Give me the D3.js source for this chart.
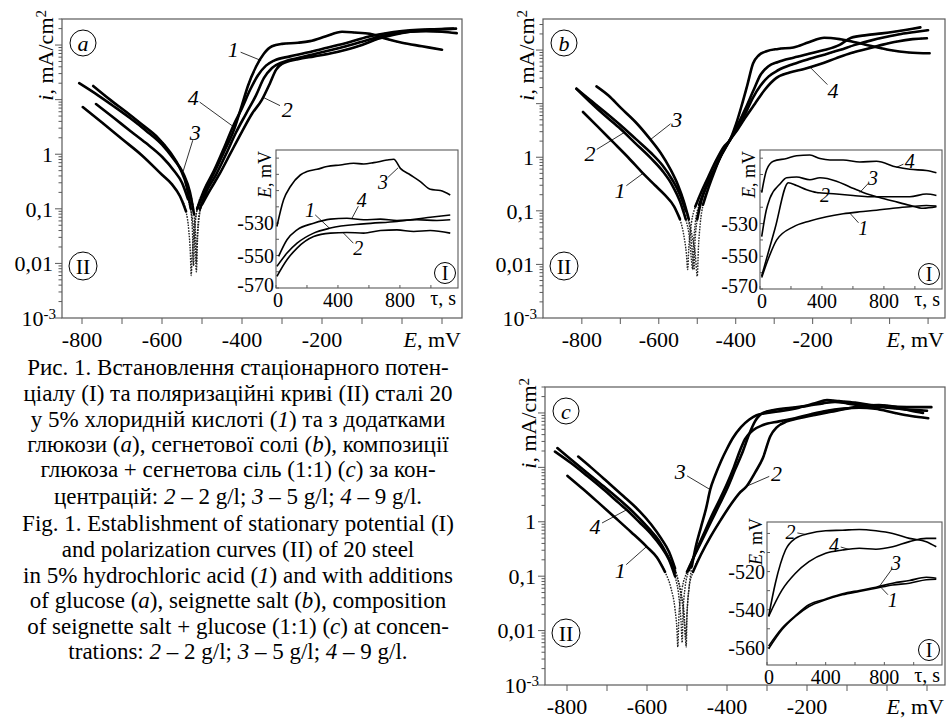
<!DOCTYPE html>
<html>
<head>
<meta charset="utf-8">
<script src="https://cdnjs.cloudflare.com/ajax/libs/d3/7.8.5/d3.min.js"></script>
<style>
  body { margin: 0; background: #fff; }
  svg { display: block; }
  svg, text { font-family: "Liberation Serif", "Times New Roman", Times, "DejaVu Serif", serif; fill: #000; }
</style>
</head>
<body>
<svg id="fig" width="949" height="718" font-family="Liberation Serif, Times New Roman, serif"></svg>
<script>
// ---- polarization curves [E, mV ; i, mA/cm2] ----
var aCurve1 = [[-798,7.3],[-750,3.8],[-700,1.9],[-650,0.95],[-600,0.42],[-575,0.28],[-555,0.17],[-540,0.09],[-533,0.04],[-529,0.015],[-527,0.006],
  [-525,0.012],[-520,0.04],[-512,0.1],[-495,0.2],[-470,0.45],[-445,1.1],[-420,2.8],[-400,8],[-385,18],[-365,40],[-345,70],[-325,95],[-300,105],[-260,110],[-230,118],[-190,145],[-150,175],[-120,170],[-80,160],[-40,130],[0,110],[50,95],[100,82]];
var aCurve2 = [[-765,8.3],[-720,4.6],[-680,2.7],[-640,1.6],[-600,0.9],[-570,0.5],[-550,0.3],[-535,0.15],[-522,0.05],[-517,0.02],[-514,0.007],
  [-512,0.02],[-508,0.06],[-500,0.12],[-480,0.22],[-455,0.45],[-430,1],[-400,2.6],[-375,5.5],[-350,10],[-330,20],[-315,35],[-300,45],[-260,55],[-220,62],[-180,70],[-140,82],[-100,100],[-60,130],[-20,155],[20,175],[60,185],[100,195],[135,200]];
var aCurve3 = [[-807,20],[-760,12],[-720,7.5],[-680,4.6],[-640,2.7],[-600,1.5],[-570,0.8],[-547,0.45],[-530,0.2],[-520,0.08],[-516,0.03],[-514,0.01],
  [-512,0.03],[-505,0.1],[-490,0.2],[-465,0.42],[-440,1],[-415,2.5],[-390,5.5],[-365,12],[-345,25],[-325,38],[-300,48],[-260,58],[-220,68],[-180,80],[-140,95],[-100,115],[-60,140],[-20,160],[20,175],[60,180],[100,175],[137,165]];
var aCurve4 = [[-772,17.8],[-730,10],[-690,6],[-650,3.5],[-610,2],[-580,1.1],[-555,0.55],[-538,0.25],[-528,0.1],[-524,0.04],[-521,0.009],
  [-519,0.03],[-512,0.1],[-495,0.22],[-470,0.5],[-445,1.3],[-422,3.3],[-400,7],[-380,15],[-360,28],[-340,42],[-320,52],[-280,62],[-240,72],[-200,85],[-160,100],[-120,120],[-80,145],[-40,165],[0,180],[40,190],[80,195],[128,200]];

var bCurve1 = [[-797,7],[-760,3.8],[-720,1.95],[-680,1.0],[-641,0.5],[-610,0.3],[-585,0.2],[-560,0.12],[-545,0.07],[-535,0.035],[-528,0.015],[-525,0.008],
  [-522,0.02],[-515,0.06],[-505,0.12],[-490,0.22],[-470,0.45],[-450,0.9],[-430,1.6],[-415,2.1],[-400,4],[-385,9],[-370,22],[-355,56],[-340,80],[-320,95],[-290,105],[-250,112],[-210,140],[-170,170],[-130,160],[-90,140],[-50,120],[0,100],[50,90],[104,87]];
var bCurve2 = [[-814,19],[-780,11],[-740,6],[-700,3.4],[-660,1.8],[-620,0.95],[-590,0.55],[-565,0.3],[-545,0.15],[-530,0.07],[-520,0.03],[-515,0.012],[-512,0.008],
  [-510,0.02],[-505,0.06],[-495,0.13],[-480,0.25],[-460,0.5],[-440,1],[-415,2.1],[-395,4],[-375,8],[-355,17],[-335,35],[-315,50],[-290,60],[-250,72],[-210,85],[-170,100],[-130,125],[-100,170],[-60,190],[-20,205],[20,225],[60,250],[80,265]];
var bCurve3 = [[-762,21],[-730,14],[-700,8.5],[-660,4.5],[-623,2.2],[-595,1.2],[-570,0.6],[-550,0.3],[-535,0.15],[-522,0.07],[-512,0.03],[-505,0.015],[-500,0.006],
  [-497,0.02],[-492,0.06],[-485,0.13],[-470,0.28],[-455,0.55],[-435,1.2],[-415,2.1],[-395,3.5],[-375,6.5],[-355,13],[-335,22],[-315,32],[-290,42],[-250,55],[-210,68],[-170,82],[-130,100],[-90,125],[-50,150],[-10,175],[30,200],[70,220],[100,235]];
var bCurve4 = [[-814,19],[-780,12],[-740,7],[-700,4],[-660,2.2],[-620,1.2],[-590,0.7],[-565,0.38],[-545,0.2],[-530,0.1],[-518,0.04],[-512,0.015],[-508,0.008],
  [-506,0.025],[-500,0.07],[-490,0.15],[-475,0.3],[-455,0.6],[-435,1.2],[-415,2.1],[-395,3.3],[-375,5.5],[-350,10],[-325,18],[-295,30],[-260,38],[-220,45],[-180,55],[-140,70],[-100,88],[-60,105],[-20,125],[20,145],[60,160],[97,166]];

var cCurve1 = [[-799,7],[-760,4],[-720,2.2],[-680,1.2],[-640,0.65],[-601,0.35],[-575,0.22],[-555,0.12],[-540,0.06],[-530,0.025],[-525,0.01],[-523,0.005],
  [-520,0.02],[-512,0.06],[-500,0.12],[-480,0.25],[-460,0.5],[-440,1],[-420,2],[-400,4],[-380,9],[-360,20],[-345,40],[-330,70],[-310,100],[-280,115],[-240,125],[-200,135],[-160,150],[-130,160],[-100,150],[-60,135],[0,125],[50,115],[100,110]];
var cCurve2 = [[-824,22.6],[-790,14],[-750,8],[-710,4.6],[-670,2.6],[-630,1.4],[-595,0.75],[-570,0.45],[-550,0.25],[-530,0.12],[-515,0.05],[-507,0.02],[-503,0.007],
  [-500,0.02],[-495,0.06],[-485,0.12],[-465,0.25],[-440,0.55],[-415,1.1],[-390,2.1],[-370,3.3],[-351,4.5],[-330,8],[-310,15],[-292,37],[-275,55],[-250,70],[-220,80],[-180,92],[-140,105],[-100,120],[-60,135],[-20,140],[20,130],[60,110],[90,100]];
var cCurve3 = [[-772,15.8],[-740,10],[-700,5.5],[-660,3],[-620,1.6],[-590,0.9],[-565,0.5],[-545,0.28],[-530,0.14],[-518,0.06],[-510,0.025],[-505,0.01],[-502,0.005],
  [-500,0.02],[-495,0.06],[-488,0.15],[-478,0.35],[-465,0.8],[-452,1.8],[-442,3.9],[-430,7],[-415,13],[-400,22],[-385,35],[-365,55],[-345,75],[-326,91],[-300,100],[-260,110],[-220,125],[-180,150],[-150,172],[-120,165],[-80,155],[-40,140],[0,132],[50,128],[111,128]];
var cCurve4 = [[-830,19.5],[-790,12],[-750,7],[-710,4],[-670,2.2],[-651,1.66],[-620,1.0],[-590,0.6],[-565,0.35],[-545,0.2],[-530,0.1],[-520,0.04],[-515,0.015],[-512,0.006],
  [-510,0.02],[-505,0.06],[-495,0.13],[-478,0.28],[-458,0.6],[-438,1.3],[-418,2.6],[-400,5],[-383,10],[-368,20],[-355,33],[-335,48],[-310,60],[-270,70],[-230,80],[-190,95],[-150,110],[-110,120],[-70,125],[-30,120],[20,100],[60,88],[103,80]];

// ---- stationary potential insets [tau, s ; E, mV] ----
var aInset1 = [[6,-556.7],[71,-548.5],[136,-542.4],[243,-536.2],[351,-533.1],[566,-530.5],[781,-529],[996,-526.4],[1125,-525]];
var aInset2 = [[6,-562.8],[71,-552.6],[136,-545.4],[243,-538.3],[351,-536.2],[458,-535.8],[566,-536.2],[674,-534.6],[781,-534.2],[889,-535.2],[996,-534.6],[1125,-536.2]];
var aInset3 = [[6,-532.1],[49,-515.7],[93,-507.5],[157,-500.4],[200,-498.3],[265,-496.9],[329,-495.2],[415,-494.2],[501,-493.2],[566,-493.6],[631,-492.8],[717,-491.2],[760,-490.7],[803,-496.3],[868,-500.4],[932,-504.5],[996,-509.2],[1061,-510],[1125,-512.7]];
var aInset4 = [[17,-550.5],[71,-540.3],[136,-534.2],[243,-530.1],[351,-527.6],[458,-527],[566,-528],[674,-527.6],[781,-528.4],[910,-528],[1039,-528.4],[1125,-528]];

var bInset1 = [[11,-563],[60,-550],[108,-540],[215,-532],[322,-528.4],[430,-525.8],[537,-524],[644,-522.8],[752,-521.8],[859,-520.6],[967,-519.7],[1074,-518.9],[1139,-519.3]];
var bInset2 = [[11,-562],[97,-533],[183,-505],[236,-506.7],[301,-509.3],[365,-511],[494,-511.9],[601,-512.8],[709,-513.6],[838,-513.6],[967,-513.6],[1074,-511.9],[1139,-512.8]];
var bInset3 = [[11,-538],[40,-522],[64,-514.5],[129,-505.8],[172,-502],[236,-501.5],[322,-503.2],[387,-502],[494,-504.1],[580,-507.6],[666,-511],[752,-513.6],[859,-516.2],[967,-518.8],[1053,-520.6],[1139,-519.7]];
var bInset4 = [[11,-511],[43,-497.1],[86,-491.9],[172,-490.2],[236,-488.5],[322,-488.1],[387,-490.2],[451,-491.1],[537,-491.1],[644,-492.3],[752,-491.9],[881,-495.4],[967,-496.8],[1074,-497.5],[1139,-498.9]];

var cInset1 = [[11,-560.5],[103,-550.4],[194,-543.5],[286,-538.3],[400,-534.8],[514,-532.2],[629,-530.4],[743,-528.7],[857,-527],[971,-526.1],[1086,-524.3],[1154,-524]];
var cInset2 = [[11,-543.5],[57,-526.1],[126,-508.7],[194,-502.6],[286,-500],[400,-498.6],[514,-498.3],[629,-497.9],[743,-498.6],[857,-500],[971,-502.6],[1086,-504.3],[1154,-507]];
var cInset3 = [[11,-559.1],[103,-549.6],[194,-543.1],[286,-537.4],[400,-534.4],[514,-531.7],[629,-529.9],[743,-528.2],[857,-526.1],[971,-524.7],[1086,-523],[1154,-523.5]];
var cInset4 = [[11,-543.5],[103,-529.6],[194,-520.9],[286,-514.8],[400,-510.4],[514,-508.7],[629,-507.8],[743,-508.3],[857,-507],[971,-504.3],[1086,-502.6],[1154,-502.6]];

// ---- curve number labels: [text, labelX, labelY, targetX, targetY] in data units ----
var aMainLabels = [["1",-422,84,-352,52],["4",-522,11,-424,3.3],["2",-287,6.7,-347,11],["3",-517,2.5,-547,0.49]];
var bMainLabels = [["3",-553,5.2,-623,2.1],["2",-779,1.17,-688,2.95],["1",-701,0.24,-641,0.5],["4",-147,17.8,-207,48]];
var cMainLabels = [["3",-517,8.3,-442,3.9],["4",-730,0.81,-651,1.66],["1",-667,0.13,-601,0.35],["2",-276,7.8,-351,4.5]];
var aInsetLabels = [["3",691,-504.7,788,-496],["1",220,-522,349,-533.5],["4",553,-515.8,489,-527.3],["2",531,-545.5,435,-536.1]];
var bInsetLabels = [["4",967,-491.9,881,-495.6],["3",730,-502.3,644,-511],["2",419,-512.8,344,-510.2],["1",666,-532.7,580,-523.6]];
var cInsetLabels = [["2",160,-499.1,263,-500.5],["4",457,-506.1,560,-508.4],["3",880,-515.7,766,-527.8],["1",857,-534.8,777,-528.3]];

// ---- ticks ----
var mainXTicks = [-800,-700,-600,-500,-400,-300,-200,-100,0,100];
var mainXLabels = [-800,-600,-400,-200];
var mainYLabels = [0.001,0.01,0.1,1];
var mainYText = ["10","0,01","0,1","1"];
var insetXTicks = [0,200,400,600,800,1000];
var insetXLabels = [0,400,800];
var insetYLabelsAB = [-570,-550,-530];
var insetYLabelsC = [-560,-540,-520];

var svg = d3.select("#fig");
var FRAME = "#5a5a5a";
var SERIF = "'Liberation Serif', 'Times New Roman', Times, serif";

function leader(g, x, y, lab, size, fs) {
  g.selectAll(null).data(lab).enter().append("text")
    .attr("x", function(d) { return x(d[1]); })
    .attr("y", function(d) { return y(d[2]); })
    .attr("dy", "0.35em")
    .attr("text-anchor", "middle")
    .style("font-family", SERIF)
    .style("font-size", fs + "px")
    .style("font-style", "italic")
    .text(function(d) { return d[0]; });
  g.selectAll(null).data(lab).enter().append("line")
    .attr("x1", function(d) {
      var dx = x(d[3]) - x(d[1]), dy = y(d[4]) - y(d[2]), L = Math.hypot(dx, dy);
      return x(d[1]) + dx / L * size; })
    .attr("y1", function(d) {
      var dx = x(d[3]) - x(d[1]), dy = y(d[4]) - y(d[2]), L = Math.hypot(dx, dy);
      return y(d[2]) + dy / L * size; })
    .attr("x2", function(d) { return x(d[3]); })
    .attr("y2", function(d) { return y(d[4]); })
    .attr("stroke", "#000").attr("stroke-width", 0.8);
}

function circled(g, cx, cy, r, txt, italic, fs) {
  g.append("circle").attr("cx", cx).attr("cy", cy).attr("r", r)
    .attr("fill", "#fff").attr("stroke", "#000").attr("stroke-width", 1);
  g.append("text").attr("x", cx).attr("y", cy).attr("dy", "0.35em")
    .attr("text-anchor", "middle").style("font-family", SERIF).style("font-size", fs + "px")
    .style("font-style", italic ? "italic" : "normal").text(txt);
}

function mainPanel(p) {
  var g = svg.append("g").style("font-family", SERIF);
  var x = d3.scaleLinear().domain(p.xd).range([p.x0, p.x1]);
  var y = d3.scaleLog().domain(p.yd).range([p.y1, p.y0]);

  // x ticks (outward)
  g.selectAll(null).data(mainXTicks).enter().append("line")
    .attr("x1", function(d) { return x(d); }).attr("x2", function(d) { return x(d); })
    .attr("y1", p.y1).attr("y2", p.y1 + 6)
    .attr("stroke", FRAME).attr("stroke-width", 1);
  g.selectAll(null).data(mainXLabels).enter().append("text")
    .attr("x", function(d) { return x(d); }).attr("y", p.y1 + 29)
    .attr("text-anchor", "middle").style("font-size", "22px")
    .text(function(d) { return d; });
  var et = g.append("text").attr("x", p.x1 - 1).attr("y", p.y1 + 29)
    .attr("text-anchor", "end").style("font-size", "22px");
  et.append("tspan").style("font-style", "italic").text("E");
  et.append("tspan").text(", mV");

  // y ticks, log decades and minors
  var yt = [];
  for (var e = -3; e <= 2; e++) for (var k = 1; k <= 9; k++) {
    var v = k * Math.pow(10, e);
    if (v <= p.yd[1]) yt.push([v, k === 1]);
  }
  g.selectAll(null).data(yt).enter().append("line")
    .attr("x1", p.x0).attr("x2", function(d) { return p.x0 - (d[1] ? 7 : 3.5); })
    .attr("y1", function(d) { return y(d[0]); }).attr("y2", function(d) { return y(d[0]); })
    .attr("stroke", FRAME).attr("stroke-width", 1);
  var yl = g.selectAll(null).data(mainYLabels).enter().append("text")
    .attr("x", function(d) { return p.x0 - (d === 0.001 ? 6 : 9); }).attr("y", function(d) { return y(d); })
    .attr("dy", "0.35em").attr("text-anchor", "end").style("font-size", "22px")
    .text(function(d, i) { return mainYText[i]; });
  yl.filter(function(d) { return d === 0.001; }).append("tspan")
    .attr("dy", "-0.45em").style("font-size", "15px").text("-3");

  var yt2 = g.append("text")
    .attr("transform", "translate(" + (p.x0 - 9) + "," + (p.y0 - 9) + ") rotate(-90)")
    .attr("text-anchor", "end").style("font-size", "22px");
  yt2.append("tspan").style("font-style", "italic").text("i");
  yt2.append("tspan").text(", mA/cm");
  yt2.append("tspan").attr("dy", "-0.45em").style("font-size", "15px").text("2");

  // curves: solid where current is high, thin dotted near the corrosion potential
  var thick = d3.line().defined(function(d) { return d[1] >= 0.07; })
    .x(function(d) { return x(d[0]); }).y(function(d) { return y(d[1]); })
    .curve(d3.curveMonotoneX);
  var thin = d3.line().x(function(d) { return x(d[0]); }).y(function(d) { return y(d[1]); })
    .curve(d3.curveMonotoneX);
  g.selectAll(null).data(p.curves).enter().append("path")
    .attr("d", thin).attr("fill", "none").attr("stroke", "#222")
    .attr("stroke-width", 1.4).attr("stroke-dasharray", "1.6,1.2");
  g.selectAll(null).data(p.curves).enter().append("path")
    .attr("d", thick).attr("fill", "none").attr("stroke", "#000")
    .attr("stroke-width", 2.6).attr("stroke-linejoin", "round").attr("stroke-linecap", "round");

  leader(g, x, y, p.labels, 8, 22);

  g.append("rect").attr("x", p.x0).attr("y", p.y0).attr("width", p.x1 - p.x0).attr("height", p.y1 - p.y0)
    .attr("fill", "none").attr("stroke", FRAME).attr("stroke-width", 1.2);

  circled(g, p.x0 + 21, p.y0 + 24, 13, p.letter, true, 22);
  circled(g, p.x0 + 21, p.y1 - 52, 14, "II", false, 22);
  return g;
}

function insetPanel(p) {
  var g = svg.append("g").style("font-family", SERIF);
  var x = d3.scaleLinear().domain(p.xd).range([p.x0, p.x1]);
  var y = d3.scaleLinear().domain(p.yd).range([p.y1, p.y0]);
  g.append("rect").attr("x", p.x0).attr("y", p.y0).attr("width", p.x1 - p.x0).attr("height", p.y1 - p.y0)
    .attr("fill", "#fff").attr("stroke", FRAME).attr("stroke-width", 1.1);

  g.selectAll(null).data(insetXTicks).enter().append("line")
    .attr("x1", function(d) { return x(d); }).attr("x2", function(d) { return x(d); })
    .attr("y1", p.y1).attr("y2", p.y1 - 3).attr("stroke", FRAME);
  g.selectAll(null).data(insetXLabels).enter().append("text")
    .attr("x", function(d) { return x(d) + (d === 0 ? 2 : 0); }).attr("y", p.y1 + 19)
    .attr("text-anchor", "middle").style("font-size", "20px").text(function(d) { return d; });
  g.append("text").attr("x", p.x1 - 2).attr("y", p.y1 + 17).attr("text-anchor", "end")
    .style("font-size", "20px").text("τ, s");

  var ticksY = d3.range(Math.ceil(p.yd[0] / 10) * 10, p.yd[1], 10);
  g.selectAll(null).data(ticksY).enter().append("line")
    .attr("x1", p.x0).attr("x2", p.x0 + 3)
    .attr("y1", function(d) { return y(d); }).attr("y2", function(d) { return y(d); })
    .attr("stroke", FRAME);
  g.selectAll(null).data(p.yLabels).enter().append("text")
    .attr("x", p.x0 - 2).attr("y", function(d) { return y(d) - (d === p.yd[0] ? 3 : 0); }).attr("dy", "0.35em")
    .attr("text-anchor", "end").style("font-size", "20px").text(function(d) { return d; });
  var yt = g.append("text")
    .attr("transform", "translate(" + (p.x0 - 5) + "," + (p.y0 + p.eOff) + ") rotate(-90)")
    .attr("text-anchor", "end").style("font-size", "18px");
  yt.append("tspan").style("font-style", "italic").text("E");
  yt.append("tspan").text(", mV");

  var ln = d3.line().x(function(d) { return x(d[0]); }).y(function(d) { return y(d[1]); })
    .curve(d3.curveMonotoneX);
  g.selectAll(null).data(p.curves).enter().append("path")
    .attr("d", ln).attr("fill", "none").attr("stroke", "#000").attr("stroke-width", 1.6);

  leader(g, x, y, p.labels, 7, 20);
  circled(g, p.x1 - 13, p.y1 - 15, 10.5, "I", false, 20);
}

mainPanel({ x0: 62, x1: 462, y0: 19, y1: 318, xd: [-850, 150], yd: [1e-3, 300], letter: "a",
  curves: [aCurve1, aCurve2, aCurve3, aCurve4], labels: aMainLabels });
insetPanel({ x0: 276, x1: 458, y0: 150, y1: 288, xd: [0, 1175], yd: [-570, -485], yLabels: insetYLabelsAB, eOff: 1,
  curves: [aInset1, aInset2, aInset3, aInset4], labels: aInsetLabels });

mainPanel({ x0: 543, x1: 945, y0: 19, y1: 318, xd: [-901, 144], yd: [1e-3, 380], letter: "b",
  curves: [bCurve1, bCurve2, bCurve3, bCurve4], labels: bMainLabels });
insetPanel({ x0: 760, x1: 942, y0: 150, y1: 289, xd: [0, 1175], yd: [-570, -485], yLabels: insetYLabelsAB, eOff: 1,
  curves: [bInset1, bInset2, bInset3, bInset4], labels: bInsetLabels });

mainPanel({ x0: 545, x1: 945, y0: 387, y1: 685, xd: [-855, 145], yd: [1e-3, 300], letter: "c",
  curves: [cCurve1, cCurve2, cCurve3, cCurve4], labels: cMainLabels });
insetPanel({ x0: 767, x1: 942, y0: 522, y1: 665, xd: [0, 1193], yd: [-569, -494], yLabels: insetYLabelsC, eOff: -4,
  curves: [cInset1, cInset2, cInset3, cInset4], labels: cInsetLabels });

// ---- caption ----
var caption = [
  [["Рис. 1. Встановлення стаціонарного потен-"]],
  [["ціалу (I) та поляризаційні криві (II) сталі 20"]],
  [["у 5% хлоридній кислоті ("], ["1", 1], [") та з додатками"]],
  [["глюкози ("], ["a", 1], ["), сегнетової солі ("], ["b", 1], ["), композиції"]],
  [["глюкоза + сегнетова сіль (1:1) ("], ["c", 1], [") за кон-"]],
  [["центрацій: "], ["2", 1], [" – 2 g/l; "], ["3", 1], [" – 5 g/l; "], ["4", 1], [" – 9 g/l."]],
  [["Fig. 1. Establishment of stationary potential (I)"]],
  [["and polarization curves (II) of 20 steel"]],
  [["in 5% hydrochloric acid ("], ["1", 1], [") and with additions"]],
  [["of glucose ("], ["a", 1], ["), seignette salt ("], ["b", 1], ["), composition"]],
  [["of seignette salt + glucose (1:1) ("], ["c", 1], [") at concen-"]],
  [["trations: "], ["2", 1], [" – 2 g/l; "], ["3", 1], [" – 5 g/l; "], ["4", 1], [" – 9 g/l."]]
];
var capY = [368, 394, 420, 445, 470, 497, 524, 550, 576, 601, 627, 652];
var cap = svg.append("g").style("font-family", SERIF);
caption.forEach(function(line, i) {
  var t = cap.append("text").attr("x", 238).attr("y", capY[i] + 7)
    .attr("text-anchor", "middle").style("font-size", "23px");
  line.forEach(function(s) {
    t.append("tspan").style("font-style", s[1] ? "italic" : "normal").text(s[0]);
  });
});
</script>
</body>
</html>
